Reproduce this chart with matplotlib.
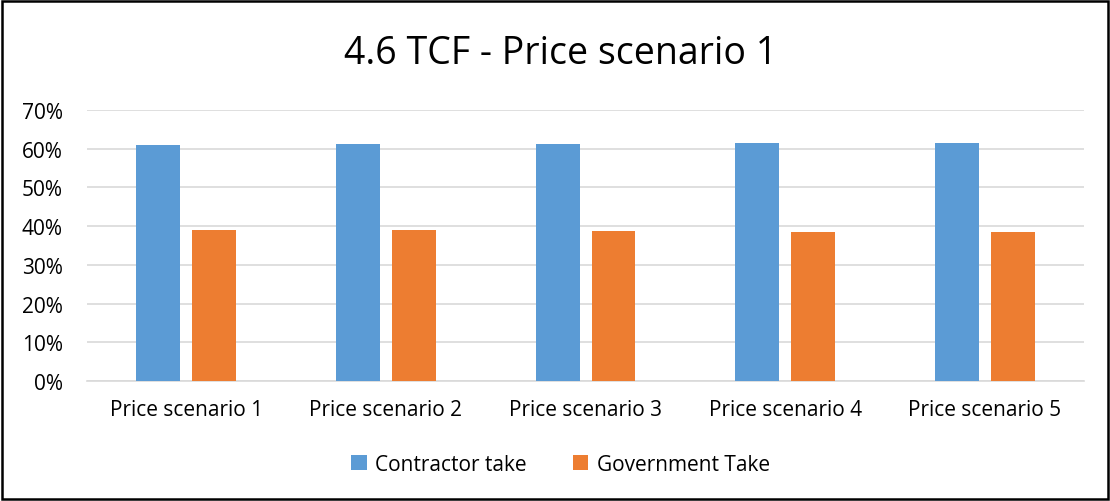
import numpy as np
import matplotlib
matplotlib.use("Agg")
import matplotlib.pyplot as plt
from matplotlib.patches import Rectangle
from matplotlib.ticker import FuncFormatter

# Data
scenarios = ["Price scenario 1", "Price scenario 2", "Price scenario 3",
             "Price scenario 4", "Price scenario 5"]
contractor_take = [0.610, 0.611, 0.612, 0.614, 0.614]
government_take = [0.390, 0.389, 0.388, 0.386, 0.386]

plt.rcParams['font.family'] = ['Open Sans', 'DejaVu Sans']

fig = plt.figure(figsize=(11.1, 5.02), dpi=100)
ax = fig.add_axes([0.078, 0.239, 0.899, 0.540])

x = np.arange(len(scenarios))
w = 0.22
gap = 0.06
ax.bar(x - (w + gap) / 2, contractor_take, w, color="#5B9BD5", label="Contractor take", zorder=3)
ax.bar(x + (w + gap) / 2, government_take, w, color="#ED7D31", label="Government Take", zorder=3)

ax.set_xlim(-0.5, len(scenarios) - 0.5)
ax.set_ylim(0, 0.70)
ax.set_yticks(np.arange(0, 0.71, 0.1))
ax.yaxis.set_major_formatter(FuncFormatter(lambda v, p: f"{v*100:.0f}%"))
ax.set_xticks(x)
ax.set_xticklabels(scenarios)
ax.tick_params(axis="both", length=0, labelsize=15, colors="#000000")
ax.tick_params(axis="y", pad=17)
ax.tick_params(axis="x", pad=13)
ax.grid(axis="y", color="#D9D9D9", linewidth=1.2, zorder=0)
for s in ["top", "right", "left"]:
    ax.spines[s].set_visible(False)
ax.spines["bottom"].set_color("#D9D9D9")
ax.spines["bottom"].set_linewidth(1.2)

fig.text(0.505, 0.893, "4.6 TCF - Price scenario 1", ha="center", va="center", fontsize=27)

fig.legend(loc="center", bbox_to_anchor=(0.505, 0.073), ncol=2, frameon=False,
           fontsize=15, handlelength=0.75, handleheight=0.75, columnspacing=2.2,
           handletextpad=0.4)

# outer frame
fig.patches.append(Rectangle((0.002, 0.003), 0.996, 0.994, transform=fig.transFigure,
                             fill=False, edgecolor="black", linewidth=1.8))

fig.savefig("out.png", dpi=100)
